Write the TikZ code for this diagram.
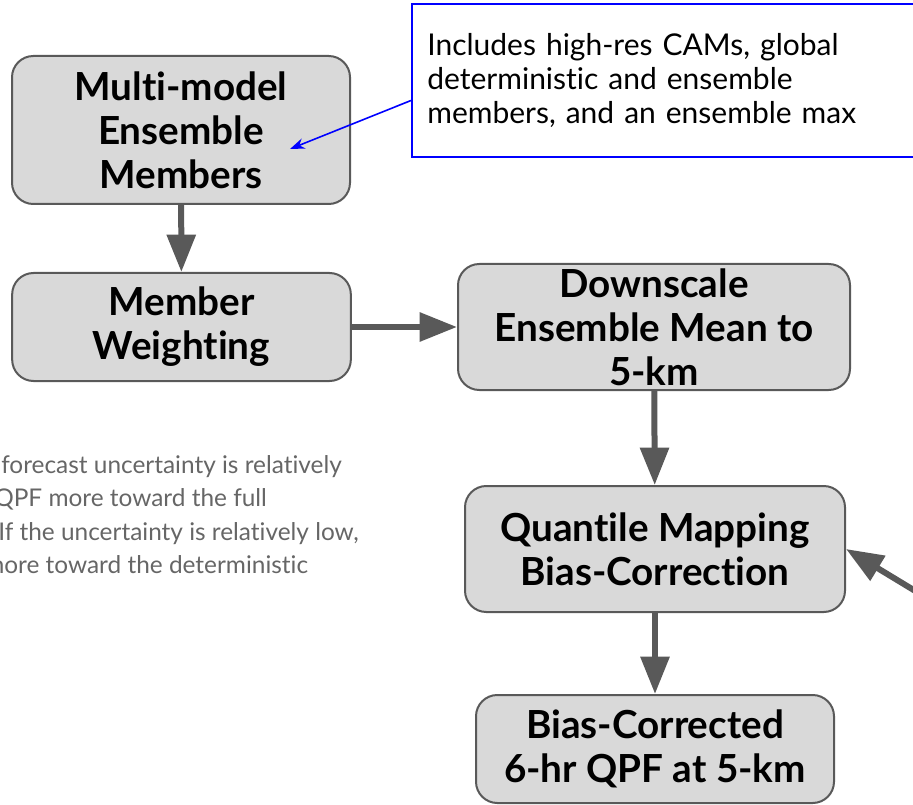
\documentclass[tikz,border=0pt]{standalone}
\usepackage{fontspec}
\setmainfont{Lato}[Ligatures=NoCommon]
\usepackage{tikz}
\usetikzlibrary{positioning, arrows.meta}
\definecolor{boxfill}{HTML}{D9D9D9}
\definecolor{boxline}{HTML}{595959}
\definecolor{notegray}{HTML}{666666}

\begin{document}
\begin{tikzpicture}[x=0.75pt, y=-0.75pt,
    box/.style={draw=boxline, line width=1.5pt, fill=boxfill, rounded corners=16pt, align=center, inner sep=0pt, font=\fontsize{29}{33}\selectfont\bfseries},
    notebox/.style={draw=blue, line width=1.5pt, anchor=north west, align=left, inner xsep=11.5pt, font=\fontsize{22.5}{25.5}\selectfont},
    arrow/.style={-{Triangle[length=28pt, width=21pt]}, line width=4.5pt, draw=boxline},
    pointer/.style={-{Stealth[length=11pt, width=8pt]}, line width=1.2pt, draw=blue},
    note/.style={anchor=base west, inner sep=0pt, text=notegray, font=\fontsize{18.3}{25}\selectfont}
]
\useasboundingbox (0,0) rectangle (913,805);

% Components
\node[box, minimum width=253.5pt, minimum height=111pt] (members) at (181,130) {Multi-model\\Ensemble\\Members};
\node[box, minimum width=254pt, minimum height=81pt] (weighting) at (181.5,327) {Member\\Weighting};
\node[box, minimum width=294pt, minimum height=94.5pt] (downscale) at (654,327) {Downscale\\Ensemble Mean to\\5-km};
\node[box, minimum width=285pt, minimum height=94.5pt] (qmap) at (655,549) {Quantile Mapping\\Bias-Correction};
\node[box, minimum width=268.5pt, minimum height=81pt] (qpf) at (655,749) {Bias-Corrected\\6-hr QPF at 5-km};

% Callout
\node[notebox, minimum width=390pt, minimum height=114.75pt, text width=370pt] (includes) at (411,3) {Includes high-res CAMs, global\\deterministic and ensemble\\members, and an ensemble max};
\coordinate (notetip) at (290,149);
\coordinate (feed) at (945,609);

% Connections
\draw[arrow] (members) -- (weighting);
\draw[arrow] (weighting) -- (downscale);
\draw[arrow] (downscale) -- (qmap);
\draw[arrow] (qmap) -- (qpf);
\draw[arrow] (feed) -- (qmap.east);
\draw[pointer] ([yshift=-15pt]includes.west) -- (notetip);

% Labels
\node[note] (line1) at (1,473) {forecast uncertainty is relatively};
\node[note] (line2) at (-6,506) {QPF more toward the full};
\node[note] (line3) at (-2,540) {If the uncertainty is relatively low,};
\node[note] (line4) at (-16,573) {more toward the deterministic};

\end{tikzpicture}
\end{document}
